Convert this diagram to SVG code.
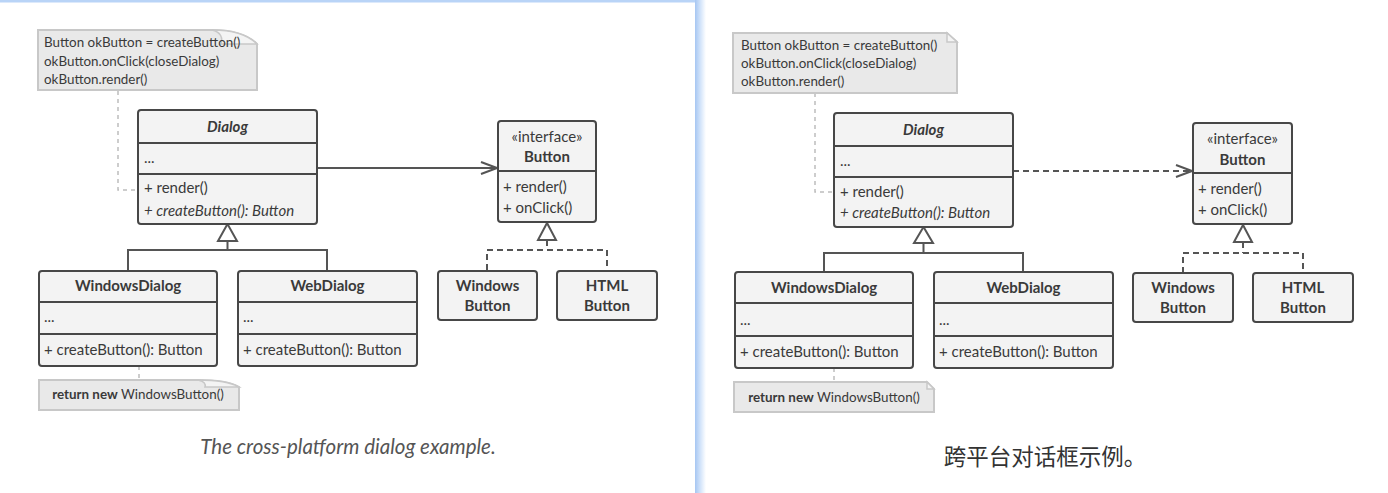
<svg xmlns="http://www.w3.org/2000/svg" width="1388" height="493" viewBox="0 0 1388 493">
<defs>
<linearGradient id="edge" x1="0" y1="0" x2="1" y2="0">
<stop offset="0" stop-color="#a6c6f2"/>
<stop offset="0.5" stop-color="#d3e4fa"/>
<stop offset="1" stop-color="#ffffff"/>
</linearGradient>
<marker id="open" viewBox="0 0 18 14" refX="17" refY="7" markerWidth="18" markerHeight="14" markerUnits="userSpaceOnUse" orient="auto">
<path d="M1,1 L17,7 L1,13" fill="none" stroke="#555" stroke-width="2"/>
</marker>
</defs>
<style>
.box{fill:#f3f3f3;stroke:#474747;stroke-width:2}
.sep{stroke:#474747;stroke-width:2}
.t{font-family:Lato,"Liberation Sans",sans-serif;font-size:15px;fill:#3a3a3a}
.b{font-weight:bold}
.i{font-style:italic}
.c{text-anchor:middle}
.n{font-family:Lato,"Liberation Sans",sans-serif;font-size:13.4px;fill:#3a3a3a}
.note{fill:#e9e9e9;stroke:#c8c8c8;stroke-width:2}
.curl{fill:#f4f4f4;stroke:#c8c8c8;stroke-width:1.5}
.line{fill:none;stroke:#555;stroke-width:2}
.dash{fill:none;stroke:#555;stroke-width:2;stroke-dasharray:6 4}
.dot{fill:none;stroke:#bdbdbd;stroke-width:1.5;stroke-dasharray:4 4}
.tri{fill:#fff;stroke:#555;stroke-width:2}
</style>
<rect x="0" y="0" width="1388" height="493" fill="#fff"/>
<rect x="0" y="0" width="695" height="2.5" fill="#b9d4f7"/>
<rect x="695" y="0" width="11" height="493" fill="url(#edge)"/>

<!-- connectors -->
<g id="connectors">
<path class="dot" d="M118,91 V190 H138"/>
<path class="dot" d="M139,366 V380"/>
<path class="line" d="M317,168 H497" marker-end="url(#open)"/>
<path class="line" d="M227.5,241 V250 M128,270 V250 H327 V270"/>
<path class="tri" d="M227.5,224 L218,241 H237 Z"/>
<path class="dash" d="M547,240 V250 M487,270 V250 H607 V270"/>
<path class="tri" d="M547,223 L538,240 H556 Z"/>

<path class="dot" d="M815,93 V192 H834"/>
<path class="dot" d="M834,368 V382"/>
<path class="dash" d="M1013,171 H1192" marker-end="url(#open)"/>
<path class="line" d="M923.5,243 V253 M824,272 V253 H1023 V272"/>
<path class="tri" d="M923.5,227 L914,243 H933 Z"/>
<path class="dash" d="M1243,242 V253 M1183,273 V253 H1303 V273"/>
<path class="tri" d="M1243,225 L1234,242 H1252 Z"/>
</g>

<!-- LEFT PANEL -->
<g id="note-left-top">
<path class="note" d="M38,30 H212 C234,30 249,36 257,44 V90 H38 Z"/>
<path class="curl" d="M212,30 C221,32 223,38 221,44 H257 C249,36 234,30 212,30 Z"/>
<text class="n" x="44" y="47">Button okButton = createButton()</text>
<text class="n" x="44" y="65.5">okButton.onClick(closeDialog)</text>
<text class="n" x="44" y="84">okButton.render()</text>
</g>
<g id="dialog-left">
<rect class="box" x="138" y="110" width="179" height="114" rx="3"/>
<path class="sep" d="M138,143 H317 M138,174 H317"/>
<text class="t b i c" x="227.5" y="132">Dialog</text>
<text class="t" x="144" y="163">...</text>
<text class="t" x="144" y="193">+ render()</text>
<text class="t i" x="144" y="216">+ createButton(): Button</text>
</g>
<g id="button-left">
<rect class="box" x="498" y="121" width="98" height="101" rx="3"/>
<path class="sep" d="M498,171 H596"/>
<text class="t c" x="547" y="142">«interface»</text>
<text class="t b c" x="547" y="162">Button</text>
<text class="t" x="503" y="192">+ render()</text>
<text class="t" x="503" y="213">+ onClick()</text>
</g>
<g id="windowsdialog-left">
<rect class="box" x="39" y="271" width="178" height="95" rx="3"/>
<path class="sep" d="M39,302 H217 M39,334 H217"/>
<text class="t b c" x="128" y="291">WindowsDialog</text>
<text class="t" x="44" y="322">...</text>
<text class="t" x="44" y="355">+ createButton(): Button</text>
</g>
<g id="webdialog-left">
<rect class="box" x="238" y="271" width="179" height="95" rx="3"/>
<path class="sep" d="M238,302 H417 M238,334 H417"/>
<text class="t b c" x="327.5" y="291">WebDialog</text>
<text class="t" x="243" y="322">...</text>
<text class="t" x="243" y="355">+ createButton(): Button</text>
</g>
<g id="windowsbutton-left">
<rect class="box" x="438" y="271" width="99" height="49" rx="3"/>
<text class="t b c" x="487.5" y="291">Windows</text>
<text class="t b c" x="487.5" y="311">Button</text>
</g>
<g id="htmlbutton-left">
<rect class="box" x="557" y="271" width="100" height="49" rx="3"/>
<text class="t b c" x="607" y="291">HTML</text>
<text class="t b c" x="607" y="311">Button</text>
</g>
<g id="note-left-bottom">
<path class="note" d="M39,380 H198 C218,380 232,383 239,387 V410 H39 Z"/>
<path class="curl" d="M198,380 C204,381 206,384 205,387 H239 C232,383 218,380 198,380 Z"/>
<text class="n c" x="138" y="399"><tspan class="b">return new</tspan> WindowsButton()</text>
</g>
<text x="348" y="454" text-anchor="middle" font-family="Lato,'Liberation Sans',sans-serif" font-style="italic" font-size="20.5" fill="#555">The cross-platform dialog example.</text>

<!-- RIGHT PANEL -->
<g id="note-right-top">
<path class="note" d="M733,33 H947 L957,42 V93 H733 Z"/>
<path class="curl" d="M947,33 V42 H957 Z"/>
<text class="n" x="741" y="50">Button okButton = createButton()</text>
<text class="n" x="741" y="68">okButton.onClick(closeDialog)</text>
<text class="n" x="741" y="86">okButton.render()</text>
</g>
<g id="dialog-right">
<rect class="box" x="834" y="113" width="179" height="114" rx="3"/>
<path class="sep" d="M834,146 H1013 M834,177 H1013"/>
<text class="t b i c" x="923.5" y="135">Dialog</text>
<text class="t" x="840" y="166">...</text>
<text class="t" x="840" y="197">+ render()</text>
<text class="t i" x="840" y="218">+ createButton(): Button</text>
</g>
<g id="button-right">
<rect class="box" x="1193" y="123" width="99" height="101" rx="3"/>
<path class="sep" d="M1193,173 H1292"/>
<text class="t c" x="1242.5" y="144">«interface»</text>
<text class="t b c" x="1242.5" y="165">Button</text>
<text class="t" x="1198" y="194">+ render()</text>
<text class="t" x="1198" y="215">+ onClick()</text>
</g>
<g id="windowsdialog-right">
<rect class="box" x="735" y="272" width="178" height="96" rx="3"/>
<path class="sep" d="M735,303 H913 M735,336 H913"/>
<text class="t b c" x="824" y="293">WindowsDialog</text>
<text class="t" x="740" y="325">...</text>
<text class="t" x="740" y="357">+ createButton(): Button</text>
</g>
<g id="webdialog-right">
<rect class="box" x="934" y="272" width="179" height="96" rx="3"/>
<path class="sep" d="M934,303 H1113 M934,336 H1113"/>
<text class="t b c" x="1023.5" y="293">WebDialog</text>
<text class="t" x="939" y="325">...</text>
<text class="t" x="939" y="357">+ createButton(): Button</text>
</g>
<g id="windowsbutton-right">
<rect class="box" x="1133" y="273" width="100" height="49" rx="3"/>
<text class="t b c" x="1183" y="293">Windows</text>
<text class="t b c" x="1183" y="313">Button</text>
</g>
<g id="htmlbutton-right">
<rect class="box" x="1253" y="273" width="100" height="49" rx="3"/>
<text class="t b c" x="1303" y="293">HTML</text>
<text class="t b c" x="1303" y="313">Button</text>
</g>
<g id="note-right-bottom">
<path class="note" d="M734,382 H927 L934,389 V412 H734 Z"/>
<path class="curl" d="M927,382 V389 H934 Z"/>
<text class="n c" x="834" y="402"><tspan class="b">return new</tspan> WindowsButton()</text>
</g>
<text x="1045" y="465" text-anchor="middle" font-family="'Noto Sans CJK SC',sans-serif" font-size="22.5" fill="#333">跨平台对话框示例。</text>
</svg>
